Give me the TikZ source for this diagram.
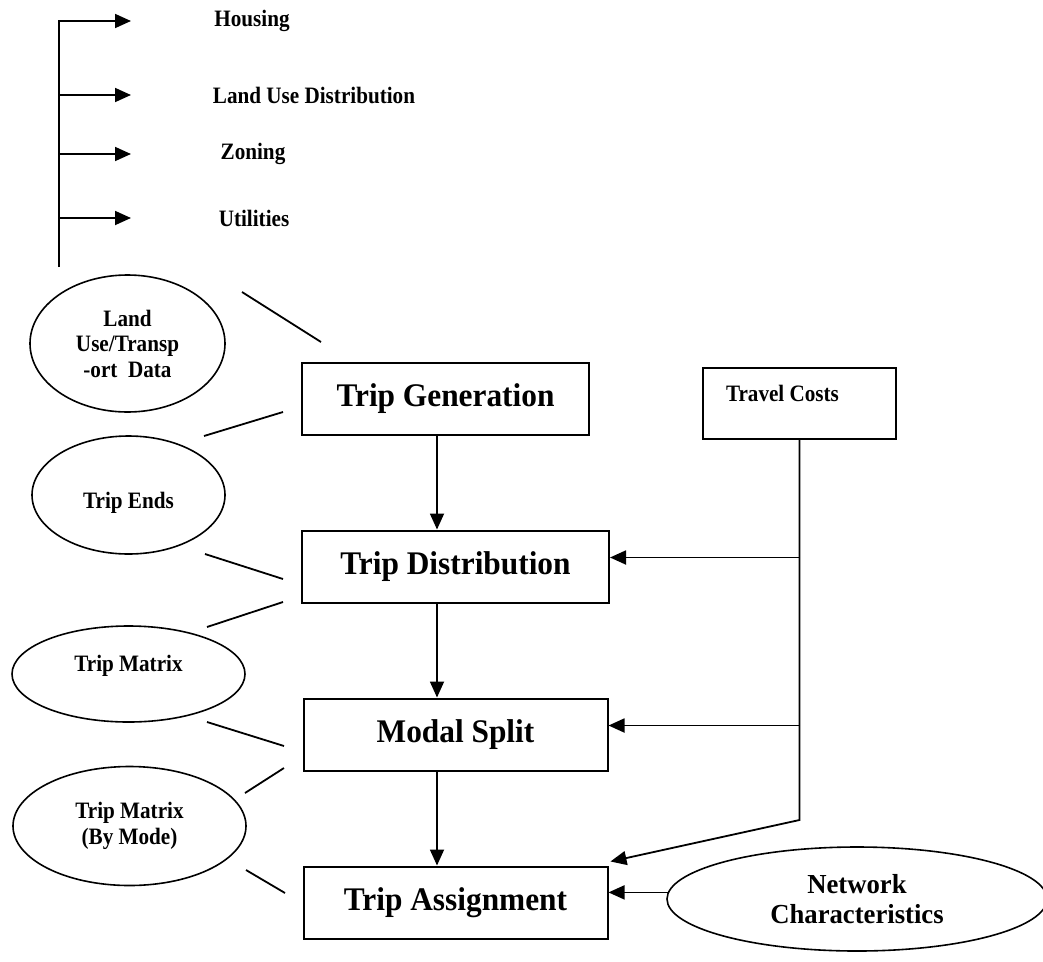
\documentclass[tikz,border=0pt]{standalone}
\usepackage{fontspec}
\setmainfont{Liberation Serif}
\newfontfamily\stagefam[FakeStretch=0.95]{Liberation Serif}
\newfontfamily\notefam[FakeStretch=0.9]{Liberation Serif}
\newfontfamily\netfam[FakeStretch=0.97]{Liberation Serif}
\usetikzlibrary{arrows.meta,shapes.geometric}

\begin{document}
\begin{tikzpicture}[x=1pt, y=-1pt, line width=1.8pt, node distance = 168pt,
    stage/.style={draw, line width=2pt, minimum height=72pt, inner sep=0pt,
      font=\stagefam\bfseries\fontsize{33}{36}\selectfont},
    data/.style={draw, ellipse, line width=1.6pt, inner sep=0pt, align=center,
      font=\notefam\bfseries\fontsize{23.5}{25.5}\selectfont},
    tag/.style={font=\notefam\bfseries\fontsize{23.5}{25.5}\selectfont},
    arr/.style={-{Triangle[length=16pt,width=14pt]}}]
  \useasboundingbox (0,0) rectangle (1043,961);

  % land use items
  \node[tag] (hs)  at (252,21)  {Housing};
  \node[tag] (lud) at (314,95)  {Land Use Distribution};
  \node[tag] (zn)  at (253,154) {Zoning};
  \node[tag] (ut)  at (254,218) {Utilities};
  \coordinate (sp)  at (59,267);
  \coordinate (tip) at (131,0);
  \draw[arr] (sp) |- (tip |- hs);
  \foreach \n in {lud,zn,ut}
    \draw[arr] (sp |- \n) -- (tip |- \n);

  % the four stages
  \node[stage, minimum width=287pt](gen)    at (445.5,399)   {Trip Generation};
  \node[stage, minimum width=307pt](dist)   at (455.5,566.5) {Trip Distribution};
  \node[stage, minimum width=304pt](split)  [below of = dist] {Modal Split};
  \node[stage, minimum width=304pt](assign) [below of = split] {Trip Assignment};

  \node[draw, line width=2pt, tag, inner xsep=23pt, text width=147pt, align=flush left,
        minimum height=71pt, text height=16pt, text depth=21pt](cost) at (799.5,403.5)
    {Travel Costs};

  % data between the stages
  \node[data, minimum width=195pt, minimum height=137pt](land) at (127.5,343.5)
    {Land\\Use/Transp\\-ort~ Data};
  \node[data, minimum width=193pt, minimum height=118pt, text height=30pt, text depth=4pt]
    (ends) at (128.5,495) {Trip Ends};
  \node[data, minimum width=233pt, minimum height=96pt, text height=16pt, text depth=22pt]
    (matrix) at (128.5,674) {Trip Matrix};
  \node[data, minimum width=233pt, minimum height=119pt](mode) at (129.5,826)
    {Trip Matrix\\(By Mode)};
  \node[data, minimum width=380pt, minimum height=104pt,
        font=\netfam\bfseries\fontsize{27.5}{30}\selectfont](net) at (857,899)
    {Network\\Characteristics};

  % side strokes
  \coordinate (l1) at (242,292); \coordinate (r1) at (321,342);
  \coordinate (l2) at (204,436); \coordinate (r2) at (283,412);
  \coordinate (l3) at (205,554); \coordinate (r3) at (283,579);
  \coordinate (l4) at (207,627); \coordinate (r4) at (283,602);
  \coordinate (l5) at (207,722); \coordinate (r5) at (284,746);
  \coordinate (l6) at (245,793); \coordinate (r6) at (284,768);
  \coordinate (l7) at (246,870); \coordinate (r7) at (285,893);
  \path
    (l1) edge (r1)
    (l2) edge (r2)
    (l3) edge (r3)
    (l4) edge (r4)
    (l5) edge (r5)
    (l6) edge (r6)
    (l7) edge (r7)
    ;

  % flow
  \coordinate (ax) at (437,0);
  \path[arr]
    (gen.south -| ax) edge (dist.north -| ax)
    (dist.south -| ax) edge (split.north -| ax)
    (split.south -| ax) edge (assign.north -| ax)
    ;
  \path (cost.south) ++(0,380) coordinate (bend);
  \path ([yshift=9pt]dist.east) coordinate (indist)
        ([yshift=9pt]split.east) coordinate (insplit);
  \draw[arr] (cost.south) -- (bend) -- ([xshift=2pt,yshift=4pt]assign.north east);
  \draw[arr] (cost.south |- indist) -- (indist);
  \draw[arr] (cost.south |- insplit) -- (insplit);
  \draw[arr] (net.178) -- (assign.east |- net.178);
\end{tikzpicture}
\end{document}
